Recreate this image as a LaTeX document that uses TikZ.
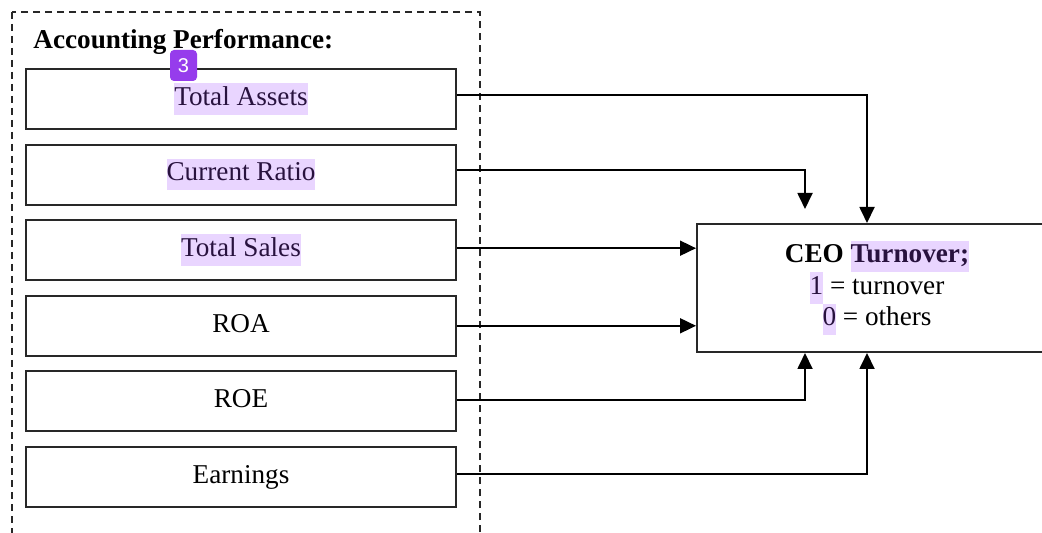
\documentclass[tikz,border=0pt]{standalone}
\usepackage{fontspec}
\setmainfont{Liberation Serif}
\newfontfamily\badgefont{Liberation Sans}
\usetikzlibrary{arrows.meta, positioning}
\definecolor{linegray}{RGB}{40,40,40}
\definecolor{hlpurple}{RGB}{233,213,255}
\definecolor{hltext}{RGB}{40,18,62}
\definecolor{badgepurple}{RGB}{150,60,236}
\newcommand{\hlt}[1]{{\setlength{\fboxsep}{0pt}\colorbox{hlpurple}{\strut\color{hltext}#1}}}
\tikzset{
  base/.style={font=\fontsize{13.6}{15.75}\selectfont},
  title/.style={font=\fontsize{13.6}{15.75}\selectfont\bfseries, inner sep=0pt},
  measure/.style={
    base,
    draw=linegray,
    line width=1pt,
    minimum width=215pt,
    minimum height=30pt,
    inner sep=0pt
  },
  outcome/.style={measure, minimum width=180pt, minimum height=64pt, align=center},
  group/.style={draw=linegray, line width=1pt, dash pattern=on 3.5pt off 2.5pt},
  arrow/.style={-{Triangle[length=8pt, width=7.5pt]}, line width=0.9pt, draw=black},
  badge/.style={
    fill=badgepurple,
    rounded corners=2pt,
    minimum width=13.5pt,
    minimum height=15.5pt,
    inner sep=0pt,
    text=white,
    font=\badgefont\fontsize{10}{12}\selectfont
  }
}

\begin{document}
\begin{tikzpicture}[x=0.5pt, y=-0.5pt, node distance=6.8pt]
  \clip (0,0) rectangle (1042,533);
  \fill[white] (0,0) rectangle (1042,533);

  % accounting performance measures
  \draw[group] (12,12) rectangle (480,560);
  \node[title, anchor=base west] (acc) at (33,49) {Accounting Performance:};

  \node[measure] (ta) at (241,99) {\hlt{Total Assets}};
  \node[measure, below=of ta] (cr) {\hlt{Current Ratio}};
  \node[measure, below=of cr] (ts) {\hlt{Total Sales}};
  \node[measure, below=of ts] (roa) {\strut ROA};
  \node[measure, below=of roa] (roe) {\strut ROE};
  \node[measure, below=of roe] (earn) {\strut Earnings};

  % outcome
  \node[outcome] (ceo) at (877,288) {\textbf{CEO \hlt{Turnover;}}\\
    \hlt{1} = turnover\\
    \hlt{0} = others};

  \coordinate (inA) at ([xshift=85.5pt]ceo.north west);
  \coordinate (inB) at ([xshift=85.5pt]ceo.south west);
  \coordinate (inC) at ([xshift=54.5pt]ceo.south west);
  \coordinate (crend) at ([xshift=54.5pt, yshift=7pt]ceo.north west);

  \draw[arrow] ([yshift=2pt]ta.east) -| (inA);
  \draw[arrow] ([yshift=2.25pt]cr.east) -| (crend);
  \draw[arrow] ([yshift=1pt]ts.east) -- ([yshift=1pt]ts.east -| ceo.west);
  \draw[arrow] (roa.east) -- (roa.east -| ceo.west);
  \draw[arrow] ([yshift=0.5pt]roe.east) -| (inC);
  \draw[arrow] ([yshift=1.5pt]earn.east) -| (inB);

  \node[badge] (mark) at (183.5,65.5) {3};
\end{tikzpicture}
\end{document}
